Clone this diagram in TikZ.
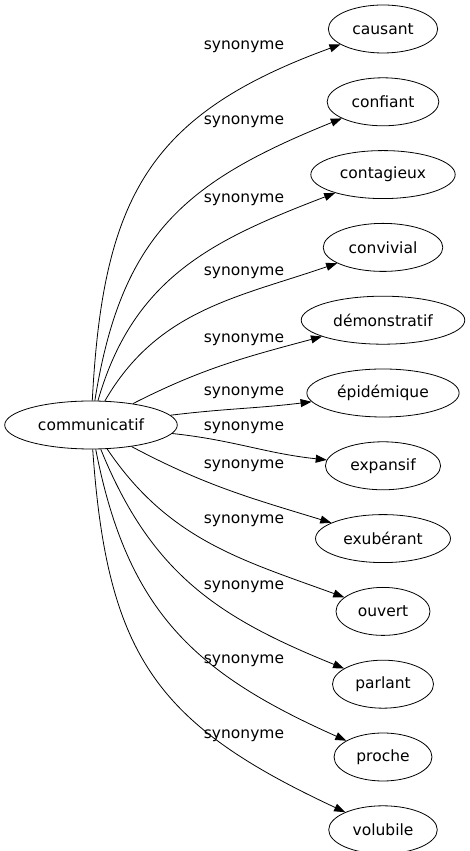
\documentclass[tikz,border=0pt]{standalone}
\usepackage{fontspec}
\setmainfont{DejaVu Sans}
\usetikzlibrary{arrows.meta,positioning,shapes.geometric}

\begin{document}
\begin{tikzpicture}[x=1pt,y=1pt,node distance=24pt,>={Triangle[length=11pt,width=8pt]},
 word/.style={draw,ellipse,line width=0.8pt,minimum height=48pt,inner xsep=8pt,inner ysep=2pt,font=\fontsize{15.5}{18}\selectfont},
 syn/.style={->,line width=0.8pt},
 lab/.style={inner sep=0pt,font=\fontsize{15.5}{18}\selectfont}]
 \useasboundingbox (0,0) rectangle (469,851);
 \node[word] (comm) at (91,426) {communicatif};
 \node[word] (causant) at (383,822) {causant};
 \node[word,below=of causant] (confiant) {confiant};
 \node[word,below=of confiant] (contagieux) {contagieux};
 \node[word,below=of contagieux] (convivial) {convivial};
 \node[word,below=of convivial] (demonstratif) {démonstratif};
 \node[word,below=of demonstratif] (epidemique) {épidémique};
 \node[word,below=of epidemique] (expansif) {expansif};
 \node[word,below=of expansif] (exuberant) {exubérant};
 \node[word,below=of exuberant] (ouvert) {ouvert};
 \node[word,below=of ouvert] (parlant) {parlant};
 \node[word,below=of parlant] (proche) {proche};
 \node[word,below=of proche] (volubile) {volubile};
 % one edge and one label per synonym
 \foreach \t/\o/\i/\l/\y in {causant/87/200/1.2/804, confiant/81/202/1.15/729,
   contagieux/74/201/1.05/651, convivial/60/199/1/578, demonstratif/27/195/1/511,
   epidemique/7/187/1/458, expansif/-6/174/1/423, exuberant/-28/163/1/385,
   ouvert/-56/160/1/330, parlant/-68/158/1.05/264, proche/-79/156/1.1/190,
   volubile/-86/155/1.2/115}{
   \draw[syn] (comm) to[out=\o,in=\i,looseness=\l] (\t);
   \node[lab] (lab-\t) at (244,\y) {synonyme};
 }
\end{tikzpicture}
\end{document}
